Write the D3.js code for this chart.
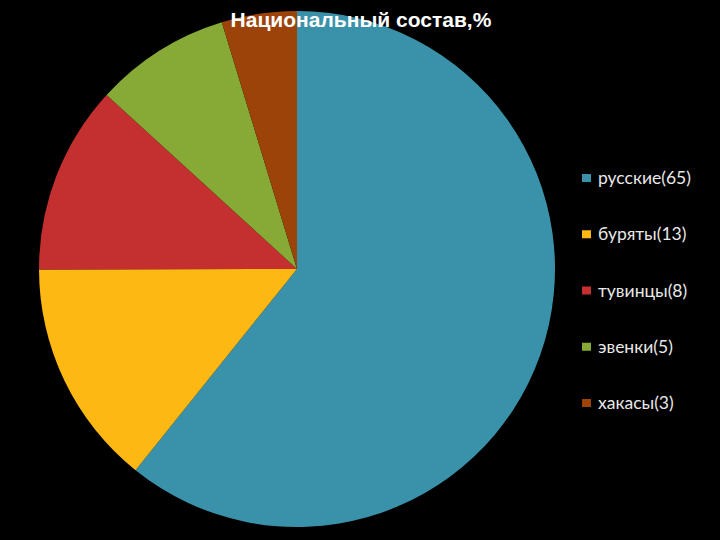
<!DOCTYPE html>
<html>
<head>
<meta charset="utf-8">
<script src="https://cdn.jsdelivr.net/npm/d3@7"></script>
<style>
  html, body { margin: 0; padding: 0; background: #000; }
</style>
</head>
<body>
<svg id="chart" width="720" height="540"></svg>
<script>
// values as drawn in the slices (the legend labels carry the stated numbers)
var categories = ["русские", "буряты", "тувинцы", "эвенки", "хакасы"];
var legendLabels = ["русские(65)", "буряты(13)", "тувинцы(8)", "эвенки(5)", "хакасы(3)"];
var shares = [60.7, 14.2, 11.8, 8.5, 4.7];
var colors = ["#3a92aa", "#fdb813", "#c3302f", "#87a935", "#9c4309"];

var svg = d3.select("#chart"),
  cx = 297, cy = 269, radius = 258;

var data = categories.map((c, i) => ({ name: c, label: legendLabels[i], value: shares[i], color: colors[i] }));

var pie = d3.pie()
  .sort(null)
  .value(d => d.value);

var arc = d3.arc()
  .innerRadius(0)
  .outerRadius(radius);

var g = svg.append("g").attr("transform", "translate(" + cx + "," + cy + ")");

g.selectAll("path")
    .data(pie(data))
  .enter()
    .append("path")
      .attr("fill", d => d.data.color)
      .attr("d", arc);

// legend
var legend = svg.append("g").attr("transform", "translate(582,178)");
var item = legend.selectAll("g")
    .data(data)
  .enter()
    .append("g")
      .attr("transform", (d, i) => "translate(0," + (i * 56.25) + ")");

item.append("rect")
  .attr("x", 0)
  .attr("y", -4)
  .attr("width", 9)
  .attr("height", 8)
  .attr("fill", d => d.color);

item.append("text")
  .attr("x", 16)
  .attr("y", 0)
  .attr("dy", "0.35em")
  .attr("fill", "#e8e8e8")
  .attr("font-family", "Lato, 'Open Sans', sans-serif")
  .attr("font-size", 17.5)
  .text(d => d.label);

// title sits over the top of the pie
svg.append("text")
  .attr("x", 361)
  .attr("y", 27)
  .attr("text-anchor", "middle")
  .attr("fill", "#fff")
  .attr("font-family", "'Liberation Sans', Arial, sans-serif")
  .attr("font-weight", "bold")
  .attr("font-size", 21)
  .text("Национальный состав,%");
</script>
</body>
</html>
